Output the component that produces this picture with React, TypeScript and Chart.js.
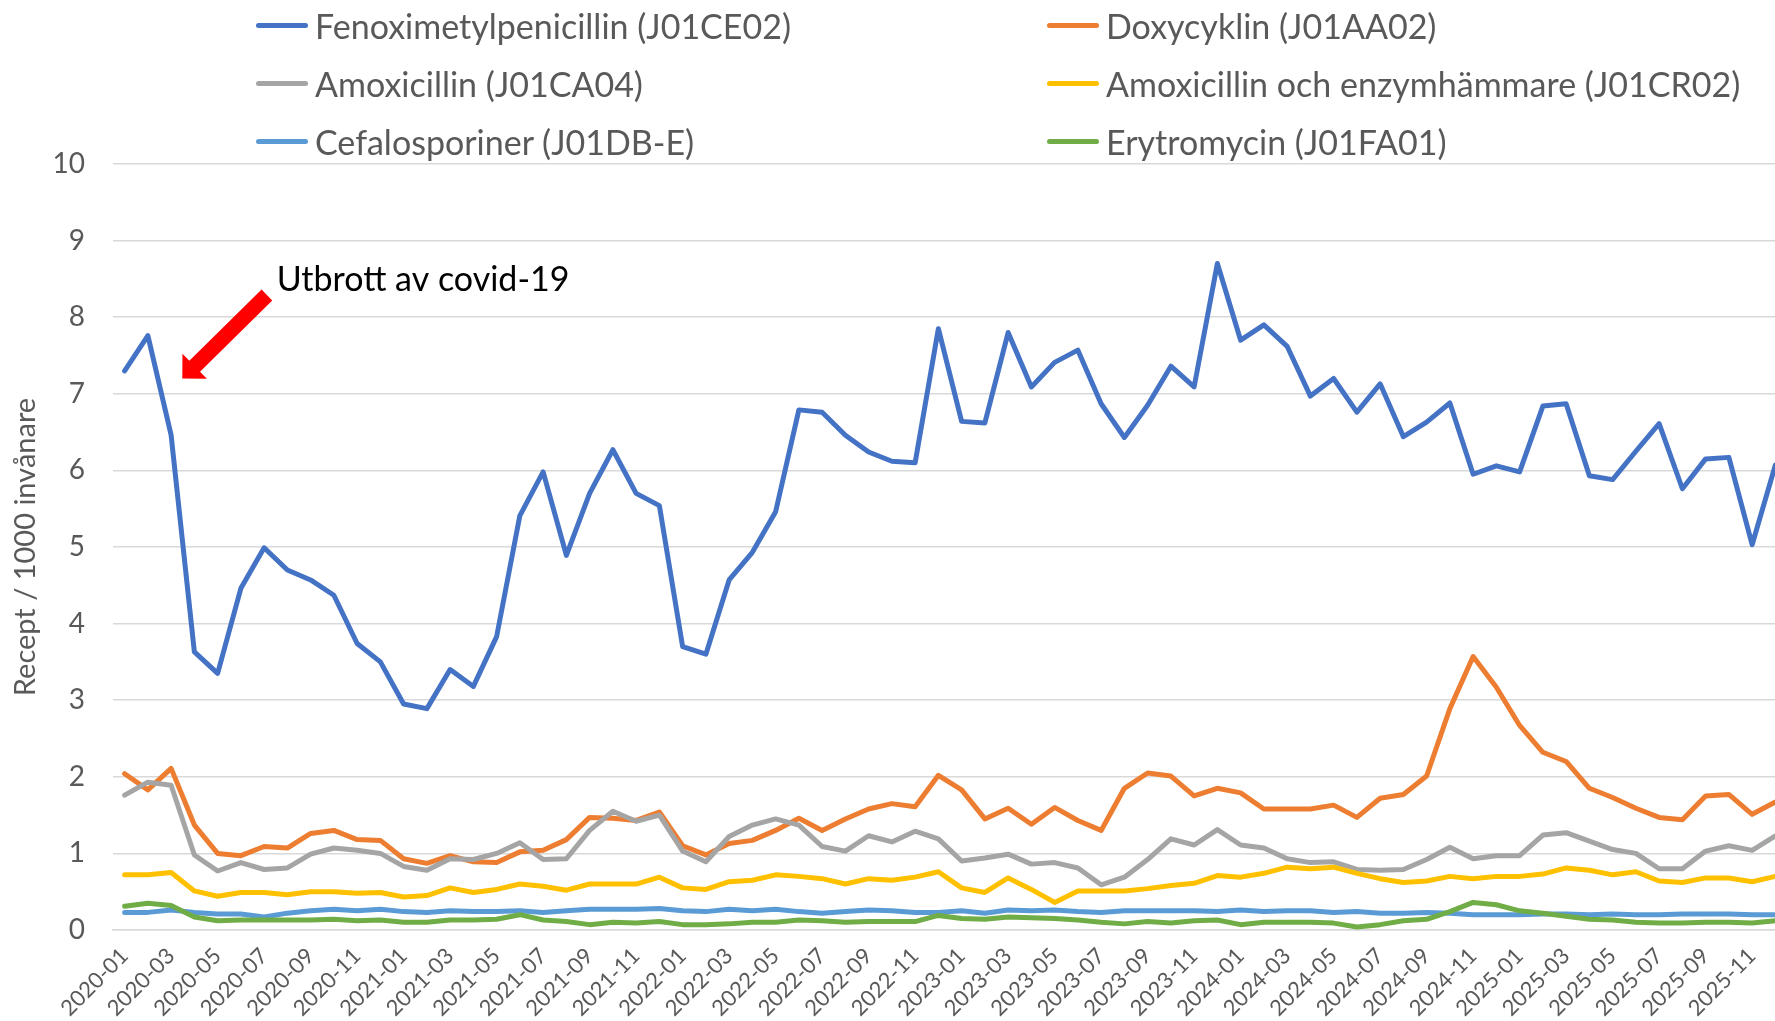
import React, { useEffect, useRef } from 'react';
import { Chart, registerables } from 'chart.js';

Chart.register(...registerables);

// ---------- data ----------
const YEARS = ['2020', '2021', '2022', '2023', '2024', '2025'];
const MONTHS = ['01', '02', '03', '04', '05', '06', '07', '08', '09', '10', '11', '12'];
const CATEGORIES = YEARS.flatMap((y) => MONTHS.map((m) => `${y}-${m}`));

const FENOXIMETYLPENICILLIN = [
  7.30, 7.76, 6.46, 3.63, 3.35, 4.46, 4.99, 4.70, 4.57, 4.37, 3.74, 3.50,
  2.95, 2.89, 3.40, 3.18, 3.83, 5.41, 5.98, 4.89, 5.70, 6.27, 5.70, 5.54,
  3.70, 3.60, 4.57, 4.93, 5.46, 6.79, 6.76, 6.46, 6.24, 6.12, 6.10, 7.85,
  6.64, 6.62, 7.80, 7.09, 7.41, 7.57, 6.87, 6.43, 6.85, 7.36, 7.09, 8.70,
  7.70, 7.90, 7.62, 6.97, 7.20, 6.76, 7.13, 6.44, 6.63, 6.88, 5.95, 6.06,
  5.98, 6.84, 6.87, 5.93, 5.88, 6.25, 6.61, 5.76, 6.15, 6.17, 5.03, 6.07,
];
const DOXYCYKLIN = [
  2.04, 1.83, 2.11, 1.37, 1.00, 0.97, 1.09, 1.07, 1.26, 1.30, 1.18, 1.17,
  0.93, 0.87, 0.97, 0.89, 0.88, 1.02, 1.04, 1.18, 1.47, 1.46, 1.43, 1.54,
  1.10, 0.98, 1.13, 1.17, 1.30, 1.46, 1.30, 1.45, 1.58, 1.65, 1.61, 2.02,
  1.83, 1.45, 1.59, 1.38, 1.60, 1.43, 1.30, 1.85, 2.05, 2.01, 1.75, 1.85,
  1.79, 1.58, 1.58, 1.58, 1.63, 1.47, 1.72, 1.77, 2.01, 2.89, 3.57, 3.17,
  2.67, 2.32, 2.20, 1.85, 1.73, 1.59, 1.47, 1.44, 1.75, 1.77, 1.51, 1.67,
];
const AMOXICILLIN = [
  1.76, 1.93, 1.89, 0.98, 0.77, 0.88, 0.79, 0.81, 0.99, 1.07, 1.04, 1.00,
  0.83, 0.78, 0.93, 0.92, 1.00, 1.14, 0.92, 0.93, 1.30, 1.55, 1.42, 1.50,
  1.03, 0.89, 1.22, 1.37, 1.45, 1.37, 1.09, 1.03, 1.23, 1.15, 1.29, 1.19,
  0.90, 0.94, 0.99, 0.86, 0.88, 0.81, 0.59, 0.69, 0.92, 1.19, 1.11, 1.31,
  1.11, 1.07, 0.93, 0.88, 0.89, 0.79, 0.78, 0.79, 0.92, 1.08, 0.93, 0.97,
  0.97, 1.24, 1.27, 1.16, 1.05, 1.00, 0.80, 0.80, 1.03, 1.10, 1.04, 1.23,
];
const AMOXICILLIN_ENZYM = [
  0.72, 0.72, 0.75, 0.51, 0.44, 0.49, 0.49, 0.46, 0.50, 0.50, 0.48, 0.49,
  0.43, 0.45, 0.55, 0.49, 0.53, 0.60, 0.57, 0.52, 0.60, 0.60, 0.60, 0.69,
  0.55, 0.53, 0.63, 0.65, 0.72, 0.70, 0.67, 0.60, 0.67, 0.65, 0.69, 0.76,
  0.55, 0.49, 0.68, 0.53, 0.36, 0.51, 0.51, 0.51, 0.54, 0.58, 0.61, 0.71,
  0.69, 0.74, 0.82, 0.80, 0.82, 0.74, 0.67, 0.62, 0.64, 0.70, 0.67, 0.70,
  0.70, 0.73, 0.81, 0.78, 0.72, 0.76, 0.64, 0.62, 0.68, 0.68, 0.63, 0.70,
];
const CEFALOSPORINER = [
  0.23, 0.23, 0.26, 0.23, 0.21, 0.21, 0.17, 0.22, 0.25, 0.27, 0.25, 0.27,
  0.24, 0.23, 0.25, 0.24, 0.24, 0.25, 0.23, 0.25, 0.27, 0.27, 0.27, 0.28,
  0.25, 0.24, 0.27, 0.25, 0.27, 0.24, 0.22, 0.24, 0.26, 0.25, 0.23, 0.23,
  0.25, 0.22, 0.26, 0.25, 0.26, 0.24, 0.23, 0.25, 0.25, 0.25, 0.25, 0.24,
  0.26, 0.24, 0.25, 0.25, 0.23, 0.24, 0.22, 0.22, 0.23, 0.22, 0.20, 0.20,
  0.20, 0.21, 0.21, 0.20, 0.21, 0.20, 0.20, 0.21, 0.21, 0.21, 0.20, 0.20,
];
const ERYTROMYCIN = [
  0.31, 0.35, 0.32, 0.17, 0.12, 0.13, 0.13, 0.13, 0.13, 0.14, 0.12, 0.13,
  0.10, 0.10, 0.13, 0.13, 0.14, 0.20, 0.13, 0.11, 0.07, 0.10, 0.09, 0.11,
  0.07, 0.07, 0.08, 0.10, 0.10, 0.13, 0.12, 0.10, 0.11, 0.11, 0.11, 0.19,
  0.15, 0.14, 0.17, 0.16, 0.15, 0.13, 0.10, 0.08, 0.11, 0.09, 0.12, 0.13,
  0.07, 0.10, 0.10, 0.10, 0.09, 0.04, 0.07, 0.12, 0.14, 0.24, 0.36, 0.33,
  0.25, 0.22, 0.18, 0.14, 0.13, 0.10, 0.09, 0.09, 0.10, 0.10, 0.09, 0.12,
];

const SERIES_NAMES = [
  'Fenoximetylpenicillin (J01CE02)',
  'Doxycyklin (J01AA02)',
  'Amoxicillin (J01CA04)',
  'Amoxicillin och enzymhämmare (J01CR02)',
  'Cefalosporiner (J01DB-E)',
  'Erytromycin (J01FA01)',
];
const SERIES_VALUES = [
  FENOXIMETYLPENICILLIN,
  DOXYCYKLIN,
  AMOXICILLIN,
  AMOXICILLIN_ENZYM,
  CEFALOSPORINER,
  ERYTROMYCIN,
];
const SERIES_COLORS = ['#4472C4', '#ED7D31', '#A5A5A5', '#FFC000', '#5B9BD5', '#70AD47'];

const Y_MIN = 0;
const Y_MAX = 10;
const Y_STEP = 1;
const Y_TITLE = 'Recept / 1000 invånare';
const NOTE_TEXT = 'Utbrott av covid-19';

// ---------- layout / style ----------
const FONT = 'Lato, "Open Sans", sans-serif';
const TEXT_COLOR = '#595959';
const GRID_COLOR = '#D9D9D9';
const CANVAS_W = 1787;
const CANVAS_H = 1021;
const PLOT_LEFT = 113;
const PLOT_TOP = 164;
const X_AXIS_H = 91;

const LEGEND_COL_X = [256, 1047];
const LEGEND_ROW_Y = [25, 83, 141];

const notePlugin = {
  id: 'covidNote',
  afterDatasetsDraw(chart: any) {
    const xs = chart.scales.x;
    const ys = chart.scales.y;
    const X = (i: number) => xs.getPixelForValue(i);
    const Y = (v: number) => ys.getPixelForValue(v);
    const ctx = chart.ctx;
    const tip = { x: X(2.48), y: Y(7.2) };
    const tail = { x: X(6.12), y: Y(8.29) };
    const dx = tip.x - tail.x;
    const dy = tip.y - tail.y;
    const len = Math.hypot(dx, dy);
    const ux = dx / len;
    const uy = dy / len;
    const nx = -uy;
    const ny = ux;
    const headLen = 17.4;
    const headHalf = 17.4;
    const shaftHalf = 7.6;
    const bx = tip.x - ux * headLen;
    const by = tip.y - uy * headLen;
    ctx.save();
    ctx.fillStyle = '#FF0000';
    ctx.beginPath();
    ctx.moveTo(tail.x + nx * shaftHalf, tail.y + ny * shaftHalf);
    ctx.lineTo(bx + nx * shaftHalf, by + ny * shaftHalf);
    ctx.lineTo(bx + nx * headHalf, by + ny * headHalf);
    ctx.lineTo(tip.x, tip.y);
    ctx.lineTo(bx - nx * headHalf, by - ny * headHalf);
    ctx.lineTo(bx - nx * shaftHalf, by - ny * shaftHalf);
    ctx.lineTo(tail.x - nx * shaftHalf, tail.y - ny * shaftHalf);
    ctx.closePath();
    ctx.fill();
    ctx.fillStyle = '#000000';
    ctx.font = `34px ${FONT}`;
    ctx.textBaseline = 'middle';
    ctx.textAlign = 'left';
    ctx.fillText(NOTE_TEXT, X(6.54), Y(8.48));
    ctx.restore();
  },
};

export default function App() {
  const canvasRef = useRef<HTMLCanvasElement | null>(null);

  useEffect(() => {
    const canvas = canvasRef.current;
    if (!canvas) return;
    const chart = new Chart(canvas, {
      type: 'line',
      data: {
        labels: CATEGORIES,
        datasets: SERIES_NAMES.map((name, i) => ({
          label: name,
          data: SERIES_VALUES[i],
          borderColor: SERIES_COLORS[i],
          backgroundColor: SERIES_COLORS[i],
          borderWidth: 5,
          pointRadius: 0,
          pointHoverRadius: 0,
          tension: 0,
          fill: false,
          borderJoinStyle: 'round',
          borderCapStyle: 'round',
          order: SERIES_NAMES.length - i,
        })),
      },
      options: {
        responsive: false,
        animation: false,
        devicePixelRatio: 1,
        layout: { padding: { left: 0, right: 0, top: PLOT_TOP, bottom: 0 } },
        plugins: {
          legend: { display: false },
          tooltip: { enabled: false },
          title: { display: false },
        },
        scales: {
          x: {
            type: 'category',
            offset: true,
            grid: { display: false, drawTicks: false },
            border: { display: true, color: GRID_COLOR, width: 1.5 },
            ticks: {
              autoSkip: false,
              minRotation: 45,
              maxRotation: 45,
              padding: 13,
              color: TEXT_COLOR,
              font: { family: FONT, size: 22 },
              callback: (_v: any, i: number) => (i % 2 === 0 ? CATEGORIES[i] : ''),
            },
            afterFit: (scale: any) => {
              scale.height = X_AXIS_H;
              scale.paddingLeft = 0;
              scale.paddingRight = 0;
            },
          },
          y: {
            min: Y_MIN,
            max: Y_MAX,
            grid: { color: GRID_COLOR, lineWidth: 1.5, drawTicks: false },
            border: { display: false },
            ticks: {
              stepSize: Y_STEP,
              padding: 28,
              color: TEXT_COLOR,
              font: { family: FONT, size: 28 },
            },
            title: {
              display: true,
              text: Y_TITLE,
              color: TEXT_COLOR,
              font: { family: FONT, size: 29 },
              padding: { top: 8, bottom: 0 },
            },
            afterFit: (scale: any) => {
              scale.width = PLOT_LEFT;
            },
          },
        },
      },
      plugins: [notePlugin],
    });
    return () => chart.destroy();
  }, []);

  return (
    <div
      style={{
        position: 'fixed',
        left: 0,
        top: 0,
        width: '100vw',
        height: '100vh',
        overflow: 'hidden',
        background: '#ffffff',
      }}
    >
      <canvas
        ref={canvasRef}
        width={CANVAS_W}
        height={CANVAS_H}
        style={{ position: 'absolute', left: 0, top: 0, width: CANVAS_W, height: CANVAS_H }}
      />
      {SERIES_NAMES.map((name, i) => {
        const col = i % 2;
        const row = Math.floor(i / 2);
        return (
          <div
            key={name}
            style={{
              position: 'absolute',
              left: LEGEND_COL_X[col],
              top: LEGEND_ROW_Y[row] - 22,
              height: 44,
              display: 'flex',
              alignItems: 'center',
              whiteSpace: 'nowrap',
              fontFamily: FONT,
              fontSize: 34,
              color: TEXT_COLOR,
            }}
          >
            <span
              style={{
                display: 'inline-block',
                width: 52,
                height: 5,
                borderRadius: 3,
                background: SERIES_COLORS[i],
                marginRight: 7,
              }}
            />
            <span>{name}</span>
          </div>
        );
      })}
    </div>
  );
}
